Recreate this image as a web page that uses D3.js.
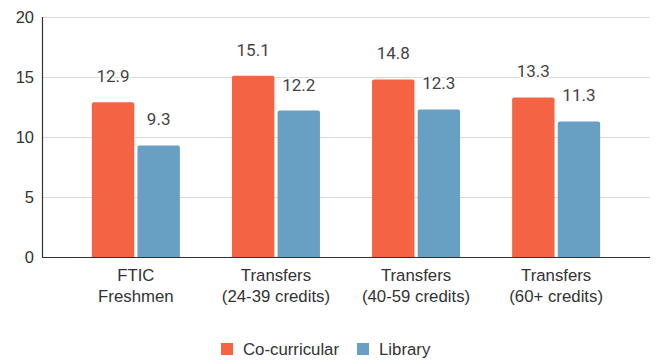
<!DOCTYPE html>
<html>
<head>
<meta charset="utf-8">
<script src="https://cdn.jsdelivr.net/npm/d3@7"></script>
<style>
  body { margin: 0; background: #fff; }
  text { font-family: "Liberation Sans", Arial, sans-serif; }
  .val { font-family: Roboto, "Liberation Sans", sans-serif; }
</style>
</head>
<body>
<div id="chart"></div>
<script>
// chart data
var groups = [["FTIC", "Freshmen"], ["Transfers", "(24-39 credits)"], ["Transfers", "(40-59 credits)"], ["Transfers", "(60+ credits)"]];
var series = ["Co-curricular", "Library"];
var coCurricular = [12.9, 15.1, 14.8, 13.3];
var library = [9.3, 12.2, 12.3, 11.3];
var yTicks = [0, 5, 10, 15, 20];

var colors = ["#f46442", "#67a0c3"];

var width = 657, height = 360;
var margin = {top: 17, right: 7, bottom: 103, left: 42};

var svg = d3.select("#chart").append("svg")
    .attr("width", width)
    .attr("height", height);

var y = d3.scaleLinear().domain([0, 20]).range([height - margin.bottom, margin.top]);

var x0 = d3.scaleBand()
    .domain(d3.range(groups.length))
    .range([margin.left, width - margin.right])
    .paddingInner(0)
    .paddingOuter(0.17);

var x1 = d3.scaleBand()
    .domain(series)
    .range([-44, 44])
    .paddingInner(0.07);

// gridlines
svg.append("g").selectAll("line")
    .data(yTicks.filter(function(d){ return d > 0; }))
    .enter().append("line")
    .attr("x1", margin.left)
    .attr("x2", width - margin.right)
    .attr("y1", function(d){ return y(d) + 0.5; })
    .attr("y2", function(d){ return y(d) + 0.5; })
    .attr("stroke", "#d9d9d9")
    .attr("stroke-width", 1);

// y tick labels
svg.append("g").selectAll("text")
    .data(yTicks)
    .enter().append("text")
    .attr("x", 34)
    .attr("y", function(d){ return y(d); })
    .attr("dy", "0.35em")
    .attr("text-anchor", "end")
    .attr("font-size", 16.5)
    .attr("fill", "#333")
    .text(function(d){ return d; });

var rows = groups.map(function(g, i){
    return [{s: 0, v: coCurricular[i], g: i}, {s: 1, v: library[i], g: i}];
});
var flat = [].concat.apply([], rows);

function barPath(d){
    var bx = x0(d.g) + x0.bandwidth() / 2 + x1(series[d.s]);
    var bw = x1.bandwidth();
    var top = y(d.v), base = y(0), r = 2;
    return "M" + bx + "," + base +
        "V" + (top + r) +
        "Q" + bx + "," + top + " " + (bx + r) + "," + top +
        "H" + (bx + bw - r) +
        "Q" + (bx + bw) + "," + top + " " + (bx + bw) + "," + (top + r) +
        "V" + base + "Z";
}

svg.append("g").selectAll("path")
    .data(flat)
    .enter().append("path")
    .attr("d", barPath)
    .attr("fill", function(d){ return colors[d.s]; });

// value labels
svg.append("g").selectAll("text")
    .data(flat)
    .enter().append("text")
    .attr("class", "val")
    .attr("x", function(d){ return x0(d.g) + x0.bandwidth() / 2 + x1(series[d.s]) + x1.bandwidth() / 2; })
    .attr("y", function(d){ return y(d.v) - 26; })
    .attr("dy", "0.35em")
    .attr("text-anchor", "middle")
    .attr("font-size", 17)
    .attr("fill", "#444")
    .attr("stroke", "#fff")
    .attr("stroke-width", 3)
    .attr("paint-order", "stroke")
    .text(function(d){ return d.v.toFixed(1); });

// axes lines
svg.append("line")
    .attr("x1", margin.left + 0.5).attr("x2", margin.left + 0.5)
    .attr("y1", margin.top).attr("y2", y(0))
    .attr("stroke", "#333").attr("stroke-width", 1.2);
svg.append("line")
    .attr("x1", margin.left).attr("x2", width - margin.right)
    .attr("y1", y(0) + 0.5).attr("y2", y(0) + 0.5)
    .attr("stroke", "#333").attr("stroke-width", 1.2);

// category labels
var cat = svg.append("g").selectAll("text")
    .data(groups)
    .enter().append("text")
    .attr("text-anchor", "middle")
    .attr("font-size", 16.8)
    .attr("fill", "#333")
    .attr("x", function(d, i){ return x0(i) + x0.bandwidth() / 2; })
    .attr("y", 281);
cat.append("tspan")
    .attr("x", function(d, i){ return x0(i) + x0.bandwidth() / 2; })
    .text(function(d){ return d[0]; });
cat.append("tspan")
    .attr("x", function(d, i){ return x0(i) + x0.bandwidth() / 2; })
    .attr("dy", 21)
    .text(function(d){ return d[1]; });

// legend
var legendX = [221, 357];
var leg = svg.append("g").selectAll("g")
    .data(series)
    .enter().append("g")
    .attr("transform", function(d, i){ return "translate(" + legendX[i] + ",343)"; });
leg.append("rect")
    .attr("width", 12).attr("height", 12)
    .attr("fill", function(d, i){ return colors[i]; });
leg.append("text")
    .attr("x", 22).attr("y", 6)
    .attr("dy", "0.35em")
    .attr("font-size", 16.8)
    .attr("fill", "#333")
    .text(function(d){ return d; });
</script>
</body>
</html>
